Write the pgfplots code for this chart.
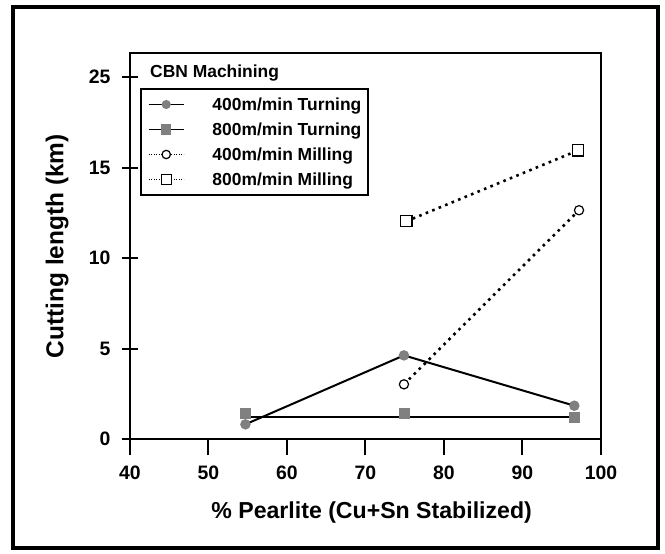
\documentclass[border=0pt]{standalone}
\usepackage{fontspec}
\setmainfont{Liberation Sans}
\usepackage{pgfplots}
\pgfplotsset{compat=1.18}
\definecolor{markgray}{RGB}{128,128,128}
\newcommand{\fs}[1]{\fontsize{#1}{#1}\selectfont\bfseries}
\begin{document}
\begin{tikzpicture}
\begin{axis}[
  scale only axis,
  width=471bp, height=385.5bp,
  xmin=40, xmax=100, ymin=0, ymax=21.3,
  clip=false,
  xtick={40,50,...,100},
  ytick={0,5,10,15,20},
  yticklabels={0,5,10,15,25},
  xtick pos=bottom, ytick pos=left,
  xtick align=outside, ytick align=center,
  major tick length=16bp,
  tick style={line width=2bp, black},
  axis line style={line width=2bp},
  /pgf/number format/assume math mode=true,
  ticklabel style={font=\fs{19.5}},
  xticklabel style={yshift=-7bp},
  yticklabel style={xshift=-8bp},
  xlabel={\% Pearlite (Cu+Sn Stabilized)},
  ylabel={Cutting length (km)},
  xlabel style={font=\fs{23.2}, at={(axis description cs:0.513,-0.1907)}, anchor=center},
  ylabel style={font=\fs{24.5}, at={(axis description cs:-0.155,0.5)}, anchor=center},
  legend style={at={(axis description cs:0.0212,0.9105)}, anchor=north west,
    draw=black, line width=2bp, font=\fs{17.5},
    inner xsep=7bp, inner ysep=3bp, row sep=0pt, column sep=28bp,
    nodes={inner sep=0pt, minimum height=25bp}},
  legend cell align=left,
  legend image code/.code={\draw[mark repeat=2,mark phase=2,#1] plot coordinates {(0bp,0bp) (17.5bp,0bp) (35bp,0bp)};},
]
% 400 m/min turning
\addplot[black, line width=2bp, mark=*, mark size=4.2bp,
  mark options={fill=markgray, draw=markgray, solid}, forget plot]
  coordinates {(54.7,0.81) (74.9,4.62) (96.6,1.84)};
% 800 m/min turning: flat line and its points
\addplot[black, line width=2bp, forget plot]
  coordinates {(54.8,1.23) (96.6,1.23)};
\addplot[only marks, mark=square*, mark size=5bp,
  mark options={fill=markgray, draw=markgray}, forget plot]
  coordinates {(54.7,1.42) (74.9,1.42) (96.6,1.20)};
% 400 m/min milling
\addplot[black, line width=2.6bp, dash pattern=on 2.6bp off 4.4bp, mark=*, mark size=4.6bp,
  mark options={solid, fill=white, draw=black, line width=1.2bp}, forget plot]
  coordinates {(74.9,3.02) (97.2,12.64)};
% 800 m/min milling
\addplot[black, line width=2.6bp, dash pattern=on 2.6bp off 4.4bp, mark=square*, mark size=5.6bp,
  mark options={solid, fill=white, draw=black, line width=1.2bp}, forget plot]
  coordinates {(75.2,12.03) (97.1,15.95)};

\addlegendimage{black, line width=1.5bp, mark=*, mark size=3.8bp, mark options={fill=markgray, draw=markgray, solid}}
\addlegendentry{400m/min Turning}
\addlegendimage{black, line width=1.5bp, mark=square*, mark size=4.5bp, mark options={fill=markgray, draw=markgray, solid}}
\addlegendentry{800m/min Turning}
\addlegendimage{black, line width=1bp, dash pattern=on 1bp off 1.5bp, mark=*, mark size=4.2bp, mark options={solid, fill=white, draw=black, line width=1.2bp}}
\addlegendentry{400m/min Milling}
\addlegendimage{black, line width=1bp, dash pattern=on 1bp off 1.5bp, mark=square*, mark size=5bp, mark options={solid, fill=white, draw=black, line width=1.2bp}}
\addlegendentry{800m/min Milling}

\node[anchor=west, inner sep=0pt, font=\fs{17.5}] at (axis description cs:0.0425,0.949) {CBN Machining};
\end{axis}
\draw[line width=4bp] (-117bp,-109bp) rectangle (528bp,432bp);
\path (-130bp,-115bp) rectangle (535bp,439bp);
\end{tikzpicture}
\end{document}
